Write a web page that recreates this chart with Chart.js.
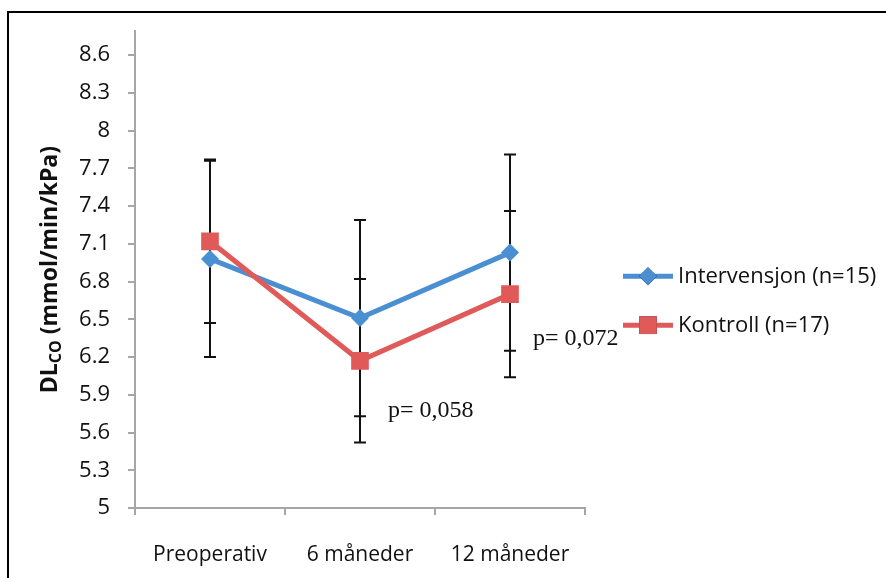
<!DOCTYPE html>
<html><head><meta charset="utf-8">
<script src="https://cdn.jsdelivr.net/npm/chart.js@4.4.0/dist/chart.umd.min.js"></script>
<style>html,body{margin:0;padding:0;background:#fff;overflow:hidden}</style>
</head><body>
<canvas id="c" width="886" height="578"></canvas>
<script>
// ---- data ----
const categories = ['Preoperativ', '6 måneder', '12 måneder'];
const intervensjonMean = [6.98, 6.51, 7.03];
const intervensjonSD = [0.78, 0.78, 0.78];
const kontrollMean = [7.12, 6.17, 6.70];
const kontrollSD = [0.65, 0.65, 0.66];
const seriesNames = ['Intervensjon (n=15)', 'Kontroll (n=17)'];
const yTickValues = [5, 5.3, 5.6, 5.9, 6.2, 6.5, 6.8, 7.1, 7.4, 7.7, 8, 8.3, 8.6];
const yTickLabels = ['5', '5.3', '5.6', '5.9', '6.2', '6.5', '6.8', '7.1', '7.4', '7.7', '8', '8.3', '8.6'];
const pTexts = ['p= 0,058', 'p= 0,072'];
const yTitleMain = 'DL';
const yTitleSub = 'CO';
const yTitleRest = ' (mmol/min/kPa)';

// ---- styles ----
const BLUE = '#4a8fd1';
const RED = '#e05a5a';
const AXIS = '#a6a6a6';
const TXT = '#111';
const SANS = '"Open Sans", "Noto Sans", sans-serif';

const errorBars = {
  id: 'errorBars',
  beforeDatasetsDraw(chart) {
    const ctx = chart.ctx, y = chart.scales.y;
    ctx.save();
    ctx.strokeStyle = '#111';
    ctx.lineWidth = 2;
    chart.data.datasets.forEach((ds, di) => {
      const meta = chart.getDatasetMeta(di);
      meta.data.forEach((pt, i) => {
        const m = ds.data[i], e = ds.errors[i];
        const x = Math.round(pt.x);
        const yt = y.getPixelForValue(m + e), yb = y.getPixelForValue(m - e);
        ctx.beginPath();
        ctx.moveTo(x, yt); ctx.lineTo(x, yb);
        ctx.moveTo(x - 6, yt); ctx.lineTo(x + 6, yt);
        ctx.moveTo(x - 6, yb); ctx.lineTo(x + 6, yb);
        ctx.stroke();
      });
    });
    ctx.restore();
  }
};

const decorations = {
  id: 'decorations',
  beforeDraw(chart) {
    const ctx = chart.ctx;
    ctx.save();
    ctx.fillStyle = '#fff';
    ctx.fillRect(0, 0, chart.width, chart.height);
    ctx.fillStyle = '#000';
    ctx.fillRect(7, 11, chart.width - 7, 2);
    ctx.fillRect(7, 11, 2, chart.height - 11);
    ctx.restore();
  },
  afterDraw(chart) {
    const ctx = chart.ctx, ca = chart.chartArea;
    ctx.save();
    // y axis title with subscript
    const big = 'bold 23px ' + SANS, small = 'bold 16px ' + SANS;
    ctx.font = big; const w1 = ctx.measureText(yTitleMain).width;
    const w3 = ctx.measureText(yTitleRest).width;
    ctx.font = small; const w2 = ctx.measureText(yTitleSub).width;
    const total = w1 + w2 + w3;
    ctx.translate(49, (ca.top + ca.bottom) / 2);
    ctx.rotate(-Math.PI / 2);
    ctx.fillStyle = TXT;
    ctx.textBaseline = 'alphabetic';
    ctx.textAlign = 'left';
    let x0 = -total / 2;
    ctx.font = big; ctx.fillText(yTitleMain, x0, 8);
    ctx.font = small; ctx.fillText(yTitleSub, x0 + w1, 12);
    ctx.font = big; ctx.fillText(yTitleRest, x0 + w1 + w2, 8);
    ctx.restore();

    // legend
    ctx.save();
    const lx = ca.right + 38;
    const ys = [ca.top + 245, ca.top + 294];
    chart.data.datasets.forEach((ds, di) => {
      const yy = ys[di];
      ctx.strokeStyle = ds.borderColor;
      ctx.lineWidth = 5;
      ctx.beginPath(); ctx.moveTo(lx, yy); ctx.lineTo(lx + 50, yy); ctx.stroke();
      Chart.helpers.drawPoint(ctx, {
        pointStyle: ds.pointStyle, radius: ds.pointRadius, borderWidth: 0, rotation: 0
      }, lx + 25, yy);
      ctx.fillStyle = ds.backgroundColor;
      ctx.fill();
      ctx.fillStyle = TXT;
      ctx.font = '22px ' + SANS;
      ctx.textAlign = 'left';
      ctx.textBaseline = 'middle';
      ctx.fillText(ds.label, lx + 55, yy + 1);
    });
    ctx.restore();

    // p-value annotations anchored to the Kontroll points
    ctx.save();
    const km = chart.getDatasetMeta(chart.data.datasets.findIndex(d => d.label === seriesNames[1]));
    ctx.font = '24px "Liberation Serif", "Times New Roman", serif';
    ctx.fillStyle = '#111';
    ctx.textAlign = 'left';
    ctx.textBaseline = 'middle';
    ctx.fillText(pTexts[0], km.data[1].x + 28, km.data[1].y + 50);
    ctx.fillText(pTexts[1], km.data[2].x + 23, km.data[2].y + 45);
    ctx.restore();
  }
};

new Chart(document.getElementById('c'), {
  type: 'line',
  data: {
    labels: categories,
    datasets: [
      { label: seriesNames[0], data: intervensjonMean, errors: intervensjonSD, order: 1,
        borderColor: BLUE, backgroundColor: BLUE, borderWidth: 5, tension: 0,
        pointStyle: 'rectRot', pointRadius: 9, pointHoverRadius: 9, pointBorderWidth: 0 },
      { label: seriesNames[1], data: kontrollMean, errors: kontrollSD, order: 0,
        borderColor: RED, backgroundColor: RED, borderWidth: 5, tension: 0,
        pointStyle: 'rect', pointRadius: 12.5, pointHoverRadius: 12.5, pointBorderWidth: 0 }
    ]
  },
  options: {
    responsive: false,
    animation: false,
    events: [],
    layout: { padding: { top: 27, right: 301, left: 0, bottom: 0 } },
    plugins: { legend: { display: false }, tooltip: { enabled: false } },
    scales: {
      x: {
        offset: true,
        grid: { offset: true, drawOnChartArea: false, drawTicks: true, tickLength: 7, color: AXIS, lineWidth: 2 },
        border: { color: AXIS, width: 2 },
        ticks: { padding: 27, color: TXT, font: { family: SANS, size: 21 }, maxRotation: 0 },
        afterFit(s) { s.height = 70; }
      },
      y: {
        min: 5, max: 8.79,
        afterBuildTicks(s) { s.ticks = yTickValues.map(v => ({ value: v })); },
        grid: { drawOnChartArea: false, drawTicks: true, tickLength: 7, color: AXIS, lineWidth: 2 },
        border: { color: AXIS, width: 2 },
        ticks: { padding: 18, color: TXT, font: { family: SANS, size: 22 },
                 callback: (v, i) => yTickLabels[i] },
        afterFit(s) { s.width = 135; }
      }
    }
  },
  plugins: [errorBars, decorations]
});
</script>
</body></html>
